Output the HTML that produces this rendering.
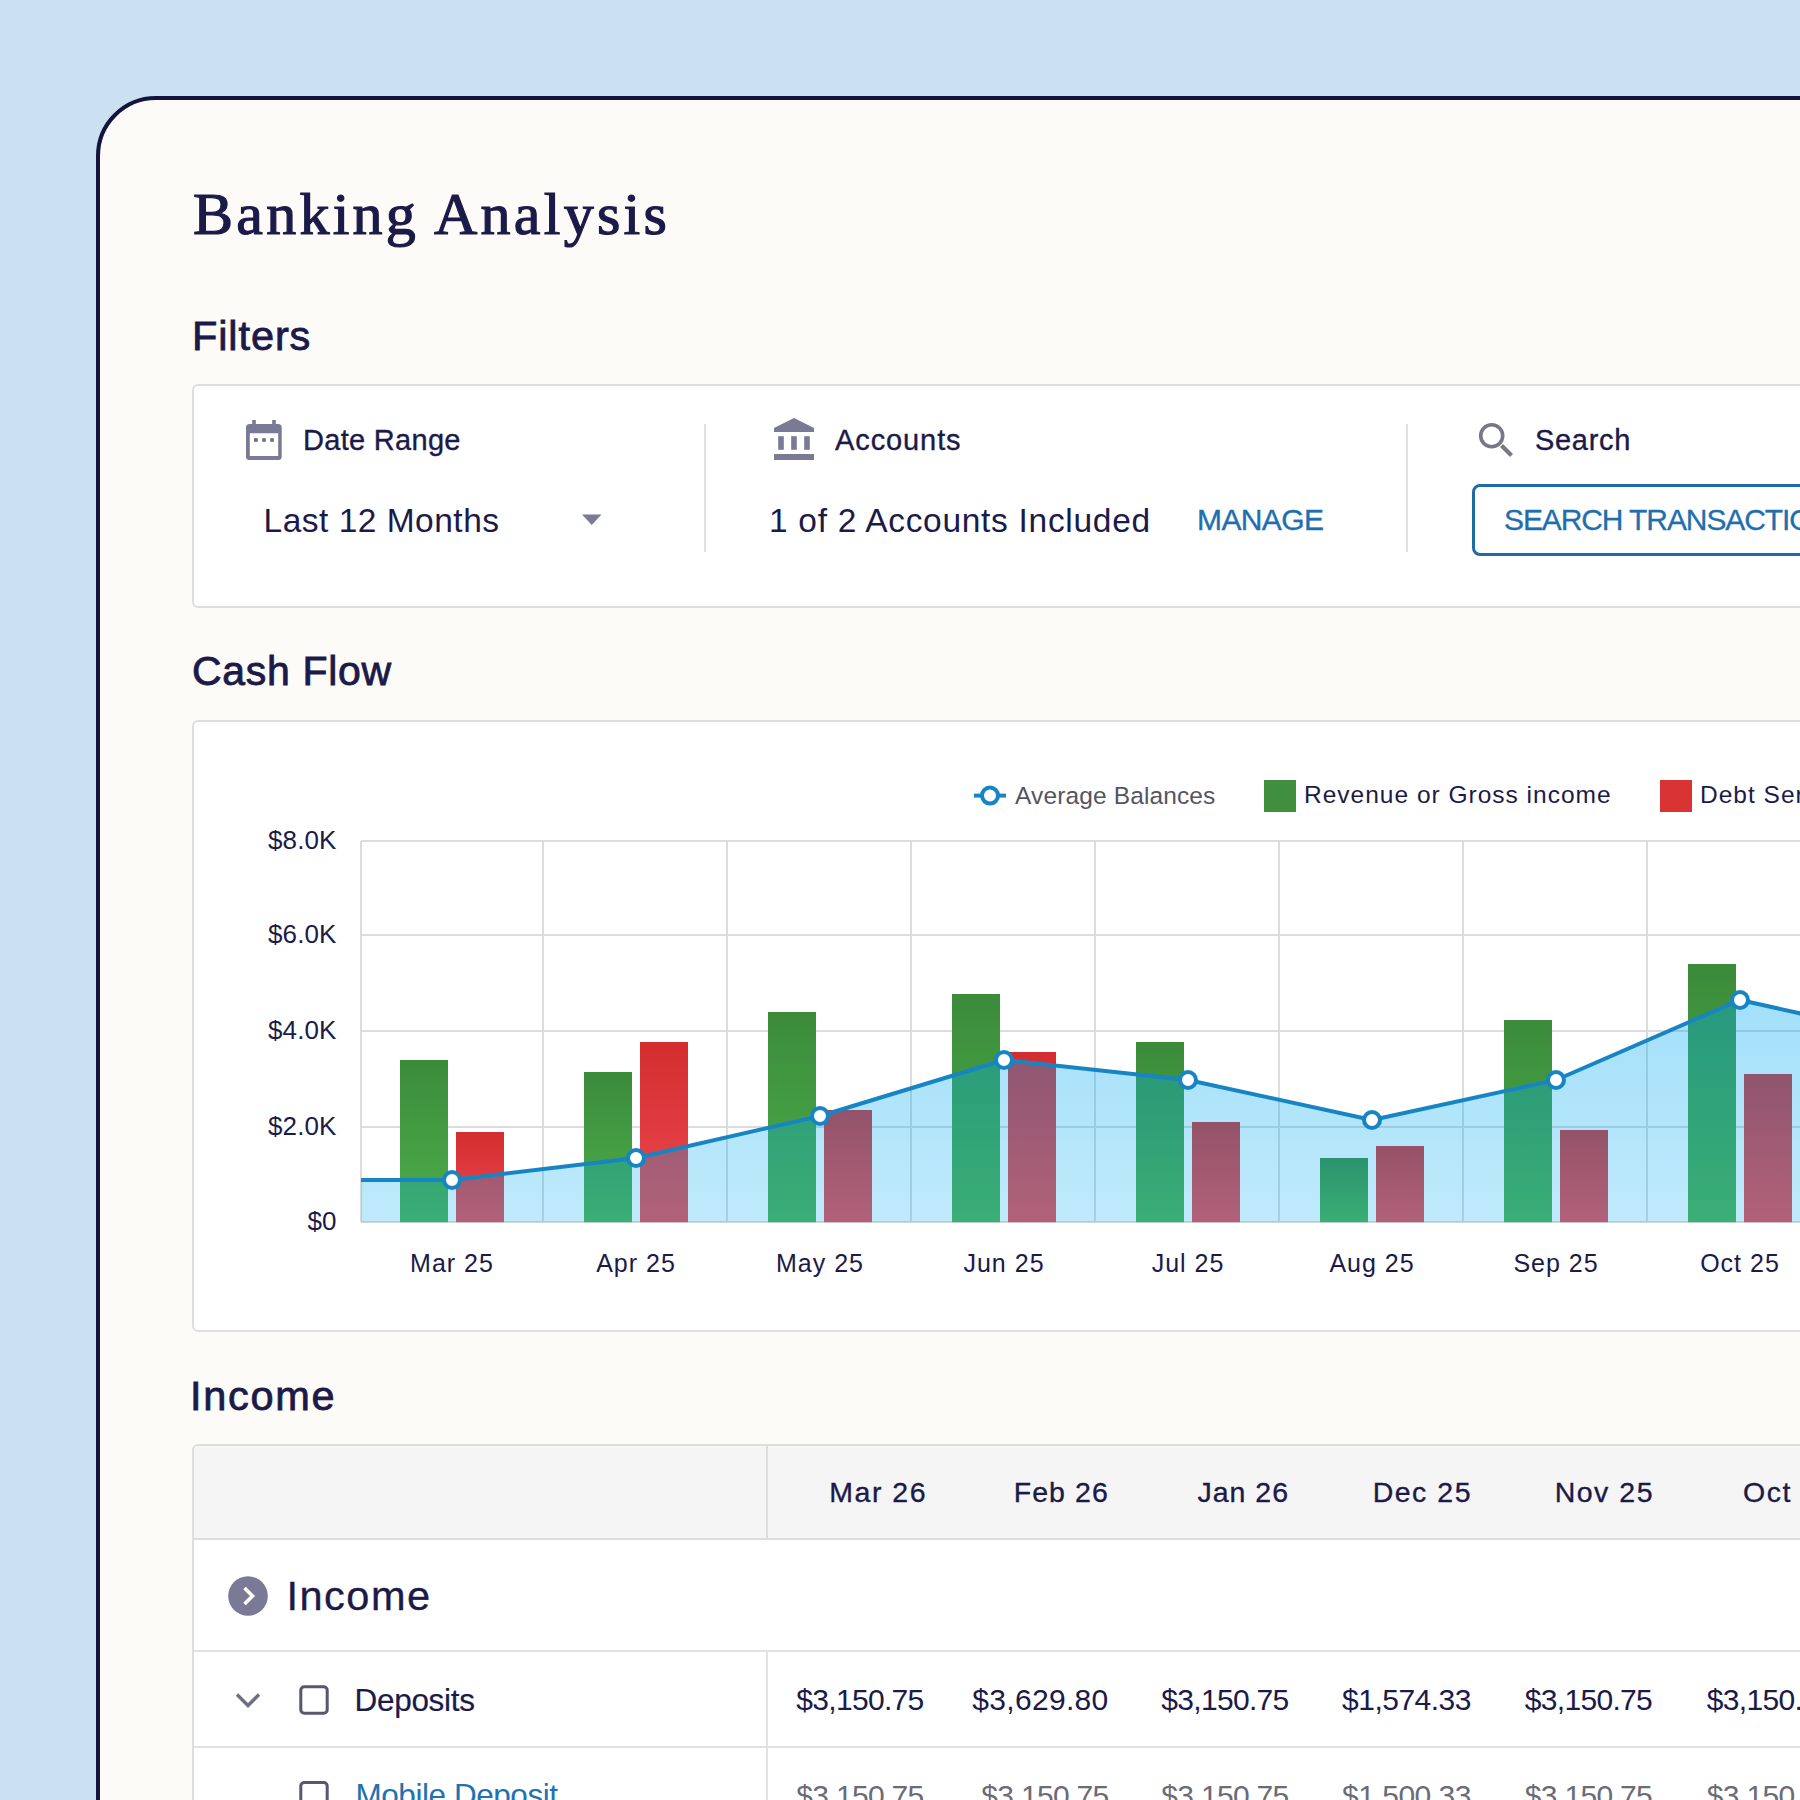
<!DOCTYPE html>
<html><head><meta charset="utf-8"><title>Banking Analysis</title>
<style>
html,body{margin:0;padding:0;}
body{width:1800px;height:1800px;overflow:hidden;position:relative;background:#cbe1f2;font-family:"Liberation Sans", sans-serif;}
.card{position:absolute;left:96px;top:96px;width:1900px;height:1900px;box-sizing:border-box;border:4px solid #13153f;border-radius:60px;background:#fcfbf8;}
.t{position:absolute;white-space:nowrap;line-height:1;}
.box{position:absolute;box-sizing:border-box;border:2px solid #dedede;border-radius:6px;background:#fff;}
.ic{position:absolute;overflow:visible}
.vd{position:absolute;width:2px;background:#e0e0e0;}
</style></head><body>
<div class="card"></div>
<div class="t" style="left:193px;top:183.76px;font-size:60px;font-family:'Liberation Serif', serif;font-weight:400;color:#1b1a48;letter-spacing:3.25px;-webkit-text-stroke:1.2px #1b1a48;">Banking Analysis</div>
<div class="t" style="left:192px;top:314.87px;font-size:41.5px;font-family:'Liberation Sans', sans-serif;font-weight:400;color:#1b1a48;letter-spacing:0.9px;-webkit-text-stroke:0.85px #1b1a48;">Filters</div>
<div class="box" style="left:192px;top:384px;width:1700px;height:224px;"></div>
<svg class="ic" style="left:236px;top:410px" width="60" height="60" viewBox="236 410 60 60">
<path fill="#7a7996" fill-rule="evenodd" d="M249.5 424h28.7a3.5 3.5 0 0 1 3.5 3.5v29a3.5 3.5 0 0 1 -3.5 3.5h-28.7a3.5 3.5 0 0 1 -3.5 -3.5v-29a3.5 3.5 0 0 1 3.5 -3.5z M249.8 433.3v22.7h28.4v-22.7z"/>
<rect x="252.2" y="420" width="3.6" height="8" fill="#7a7996"/><rect x="272.2" y="420" width="3.6" height="8" fill="#7a7996"/>
<rect x="254" y="438.2" width="3.8" height="3.6" fill="#6e6e7c"/><rect x="262.2" y="438.2" width="3.6" height="3.6" fill="#6e6e7c"/><rect x="270.2" y="438.2" width="3.6" height="3.6" fill="#6e6e7c"/>
</svg>
<div class="t" style="left:303px;top:426.45px;font-size:29px;font-family:'Liberation Sans', sans-serif;font-weight:400;color:#1b1a48;letter-spacing:0.3px;-webkit-text-stroke:0.35px #1b1a48;">Date Range</div>
<div class="t" style="left:263.5px;top:503.84px;font-size:33.5px;font-family:'Liberation Sans', sans-serif;font-weight:400;color:#1b1a48;letter-spacing:0.5px;">Last 12 Months</div>
<svg class="ic" style="left:580px;top:512px" width="24" height="16"><path d="M2 2.5h19.5l-9.75 10.5z" fill="#7a7996"/></svg>
<div class="vd" style="left:704px;top:424px;height:128px"></div>
<svg class="ic" style="left:764px;top:410px" width="60" height="60" viewBox="764 410 60 60">
<path fill="#7a7996" d="M774 428L794 418L814 428V432H774z"/>
<rect x="778.2" y="436.2" width="5.6" height="13.6" fill="#7a7996"/><rect x="791.2" y="436.2" width="5.6" height="13.6" fill="#7a7996"/><rect x="804.2" y="436.2" width="5.6" height="13.6" fill="#7a7996"/>
<rect x="774" y="454" width="40" height="6" fill="#7a7996"/>
</svg>
<div class="t" style="left:835px;top:426.45px;font-size:29px;font-family:'Liberation Sans', sans-serif;font-weight:400;color:#1b1a48;letter-spacing:0.9px;-webkit-text-stroke:0.35px #1b1a48;">Accounts</div>
<div class="t" style="left:769px;top:503.84px;font-size:33.5px;font-family:'Liberation Sans', sans-serif;font-weight:400;color:#1b1a48;letter-spacing:0.7px;">1 of 2 Accounts Included</div>
<div class="t" style="left:1197px;top:505.11px;font-size:30px;font-family:'Liberation Sans', sans-serif;font-weight:400;color:#1f6fae;letter-spacing:-0.6px;-webkit-text-stroke:0.35px #1f6fae;">MANAGE</div>
<div class="vd" style="left:1406px;top:424px;height:128px"></div>
<svg class="ic" style="left:1466px;top:410px" width="60" height="60" viewBox="1466 410 60 60">
<circle cx="1491.7" cy="435.7" r="11" fill="none" stroke="#777788" stroke-width="3.6"/>
<path d="M1501.5 445.5L1511.5 455.5" stroke="#777788" stroke-width="4.2"/>
</svg>
<div class="t" style="left:1535px;top:426.45px;font-size:29px;font-family:'Liberation Sans', sans-serif;font-weight:400;color:#1b1a48;letter-spacing:0.7px;-webkit-text-stroke:0.35px #1b1a48;">Search</div>
<div style="position:absolute;left:1472px;top:484px;width:600px;height:72px;box-sizing:border-box;border:3px solid #1f6ba6;border-radius:8px;background:#fff"></div>
<div class="t" style="left:1504px;top:505.11px;font-size:30px;font-family:'Liberation Sans', sans-serif;font-weight:400;color:#1f6fae;letter-spacing:-1.1px;-webkit-text-stroke:0.3px #1f6fae;">SEARCH TRANSACTIONS</div>
<div class="t" style="left:192px;top:651.29px;font-size:41px;font-family:'Liberation Sans', sans-serif;font-weight:400;color:#1b1a48;letter-spacing:0.67px;-webkit-text-stroke:0.85px #1b1a48;">Cash Flow</div>
<div class="box" style="left:192px;top:720px;width:1700px;height:612px;"></div>
<svg style="position:absolute;left:0;top:0" width="1800" height="1800" viewBox="0 0 1800 1800">
<defs>
<linearGradient id="gg" x1="0" y1="0" x2="0" y2="1"><stop offset="0" stop-color="#3b8b3a"/><stop offset="1" stop-color="#4db04c"/></linearGradient>
<linearGradient id="rg" x1="0" y1="0" x2="0" y2="1"><stop offset="0" stop-color="#d42d2f"/><stop offset="1" stop-color="#ec4a52"/></linearGradient>
<linearGradient id="ag" gradientUnits="userSpaceOnUse" x1="0" y1="990" x2="0" y2="1222"><stop offset="0" stop-color="#00aaf0" stop-opacity="0.37"/><stop offset="1" stop-color="#00aaf0" stop-opacity="0.25"/></linearGradient>
</defs>
<line x1="361" x2="1800" y1="841.0" y2="841.0" stroke="#dcdcdc" stroke-width="2"/>
<line x1="361" x2="1800" y1="935.0" y2="935.0" stroke="#dcdcdc" stroke-width="2"/>
<line x1="361" x2="1800" y1="1031.0" y2="1031.0" stroke="#dcdcdc" stroke-width="2"/>
<line x1="361" x2="1800" y1="1127.0" y2="1127.0" stroke="#dcdcdc" stroke-width="2"/>
<line x1="361" x2="1800" y1="1222.0" y2="1222.0" stroke="#dcdcdc" stroke-width="2"/>
<line x1="361.0" x2="361.0" y1="841" y2="1222.2" stroke="#dcdcdc" stroke-width="2"/>
<line x1="543.0" x2="543.0" y1="841" y2="1222.2" stroke="#dcdcdc" stroke-width="2"/>
<line x1="727.0" x2="727.0" y1="841" y2="1222.2" stroke="#dcdcdc" stroke-width="2"/>
<line x1="911.0" x2="911.0" y1="841" y2="1222.2" stroke="#dcdcdc" stroke-width="2"/>
<line x1="1095.0" x2="1095.0" y1="841" y2="1222.2" stroke="#dcdcdc" stroke-width="2"/>
<line x1="1279.0" x2="1279.0" y1="841" y2="1222.2" stroke="#dcdcdc" stroke-width="2"/>
<line x1="1463.0" x2="1463.0" y1="841" y2="1222.2" stroke="#dcdcdc" stroke-width="2"/>
<line x1="1647.0" x2="1647.0" y1="841" y2="1222.2" stroke="#dcdcdc" stroke-width="2"/>
<rect x="400.0" y="1060" width="48" height="162.2" fill="url(#gg)"/>
<rect x="456.0" y="1132" width="48" height="90.2" fill="url(#rg)"/>
<rect x="584.0" y="1072" width="48" height="150.2" fill="url(#gg)"/>
<rect x="640.0" y="1042" width="48" height="180.2" fill="url(#rg)"/>
<rect x="768.0" y="1012" width="48" height="210.2" fill="url(#gg)"/>
<rect x="824.0" y="1110" width="48" height="112.2" fill="url(#rg)"/>
<rect x="952.0" y="994" width="48" height="228.2" fill="url(#gg)"/>
<rect x="1008.0" y="1052" width="48" height="170.2" fill="url(#rg)"/>
<rect x="1136.0" y="1042" width="48" height="180.2" fill="url(#gg)"/>
<rect x="1192.0" y="1122" width="48" height="100.2" fill="url(#rg)"/>
<rect x="1320.0" y="1158" width="48" height="64.2" fill="url(#gg)"/>
<rect x="1376.0" y="1146" width="48" height="76.2" fill="url(#rg)"/>
<rect x="1504.0" y="1020" width="48" height="202.2" fill="url(#gg)"/>
<rect x="1560.0" y="1130" width="48" height="92.2" fill="url(#rg)"/>
<rect x="1688.0" y="964" width="48" height="258.2" fill="url(#gg)"/>
<rect x="1744.0" y="1074" width="48" height="148.2" fill="url(#rg)"/>
<polygon points="361,1222.2 361.0,1180 452.0,1180 636.0,1158 820.0,1116 1004.0,1060 1188.0,1080 1372.0,1120 1556.0,1080 1740.0,1000 1924.0,1041 1924,1222.2" fill="url(#ag)"/>
<polyline points="361.0,1180 452.0,1180 636.0,1158 820.0,1116 1004.0,1060 1188.0,1080 1372.0,1120 1556.0,1080 1740.0,1000 1924.0,1041" fill="none" stroke="#1785c4" stroke-width="4" stroke-linejoin="round"/>
<circle cx="452.0" cy="1180" r="8" fill="#fff" stroke="#1785c4" stroke-width="4"/>
<circle cx="636.0" cy="1158" r="8" fill="#fff" stroke="#1785c4" stroke-width="4"/>
<circle cx="820.0" cy="1116" r="8" fill="#fff" stroke="#1785c4" stroke-width="4"/>
<circle cx="1004.0" cy="1060" r="8" fill="#fff" stroke="#1785c4" stroke-width="4"/>
<circle cx="1188.0" cy="1080" r="8" fill="#fff" stroke="#1785c4" stroke-width="4"/>
<circle cx="1372.0" cy="1120" r="8" fill="#fff" stroke="#1785c4" stroke-width="4"/>
<circle cx="1556.0" cy="1080" r="8" fill="#fff" stroke="#1785c4" stroke-width="4"/>
<circle cx="1740.0" cy="1000" r="8" fill="#fff" stroke="#1785c4" stroke-width="4"/>
</svg>
<div class="t" style="right:1463.5px;top:827.09px;font-size:26px;font-family:'Liberation Sans', sans-serif;font-weight:400;color:#1b1a48;letter-spacing:0.1px;">$8.0K</div>
<div class="t" style="right:1463.5px;top:921.09px;font-size:26px;font-family:'Liberation Sans', sans-serif;font-weight:400;color:#1b1a48;letter-spacing:0.1px;">$6.0K</div>
<div class="t" style="right:1463.5px;top:1017.09px;font-size:26px;font-family:'Liberation Sans', sans-serif;font-weight:400;color:#1b1a48;letter-spacing:0.1px;">$4.0K</div>
<div class="t" style="right:1463.5px;top:1113.09px;font-size:26px;font-family:'Liberation Sans', sans-serif;font-weight:400;color:#1b1a48;letter-spacing:0.1px;">$2.0K</div>
<div class="t" style="right:1463.5px;top:1208.09px;font-size:26px;font-family:'Liberation Sans', sans-serif;font-weight:400;color:#1b1a48;letter-spacing:0.1px;">$0</div>
<div class="t" style="left:352.0px;width:200px;text-align:center;top:1250.8px;font-size:25px;color:#1b1a48;letter-spacing:1px">Mar 25</div>
<div class="t" style="left:536.0px;width:200px;text-align:center;top:1250.8px;font-size:25px;color:#1b1a48;letter-spacing:1px">Apr 25</div>
<div class="t" style="left:720.0px;width:200px;text-align:center;top:1250.8px;font-size:25px;color:#1b1a48;letter-spacing:1px">May 25</div>
<div class="t" style="left:904.0px;width:200px;text-align:center;top:1250.8px;font-size:25px;color:#1b1a48;letter-spacing:1px">Jun 25</div>
<div class="t" style="left:1088.0px;width:200px;text-align:center;top:1250.8px;font-size:25px;color:#1b1a48;letter-spacing:1px">Jul 25</div>
<div class="t" style="left:1272.0px;width:200px;text-align:center;top:1250.8px;font-size:25px;color:#1b1a48;letter-spacing:1px">Aug 25</div>
<div class="t" style="left:1456.0px;width:200px;text-align:center;top:1250.8px;font-size:25px;color:#1b1a48;letter-spacing:1px">Sep 25</div>
<div class="t" style="left:1640.0px;width:200px;text-align:center;top:1250.8px;font-size:25px;color:#1b1a48;letter-spacing:1px">Oct 25</div>
<svg class="ic" style="left:970px;top:780px" width="40" height="32" viewBox="970 780 40 32">
<line x1="974" x2="1006" y1="795.6" y2="795.6" stroke="#1785c4" stroke-width="4"/>
<circle cx="990" cy="795.6" r="8" fill="#fff" stroke="#1785c4" stroke-width="4"/></svg>
<div class="t" style="left:1015px;top:784.26px;font-size:24.5px;font-family:'Liberation Sans', sans-serif;font-weight:400;color:#55555f;letter-spacing:0.13px;">Average Balances</div>
<div style="position:absolute;left:1264px;top:780px;width:32px;height:32px;background:#3f8f3f"></div>
<div class="t" style="left:1304px;top:783.26px;font-size:24.5px;font-family:'Liberation Sans', sans-serif;font-weight:400;color:#1b1a48;letter-spacing:1.0px;">Revenue or Gross income</div>
<div style="position:absolute;left:1660px;top:780px;width:32px;height:32px;background:#d93334"></div>
<div class="t" style="left:1700px;top:783.26px;font-size:24.5px;font-family:'Liberation Sans', sans-serif;font-weight:400;color:#1b1a48;letter-spacing:1.0px;">Debt Service</div>
<div class="t" style="left:190px;top:1375.37px;font-size:41.5px;font-family:'Liberation Sans', sans-serif;font-weight:400;color:#1b1a48;letter-spacing:1.7px;-webkit-text-stroke:0.85px #1b1a48;">Income</div>
<div class="box" style="left:192px;top:1444px;width:1700px;height:500px;overflow:hidden"><div style="position:absolute;left:0;top:0;right:0;height:92px;background:#f5f5f5;border-bottom:2px solid #dedede"></div><div style="position:absolute;left:0;top:204px;right:0;height:0;border-top:2px solid #e2e2e2"></div><div style="position:absolute;left:0;top:300px;right:0;height:0;border-top:2px solid #e2e2e2"></div><div style="position:absolute;left:572px;top:0;width:2px;height:93px;background:#dedede"></div><div style="position:absolute;left:572px;top:206px;width:2px;height:400px;background:#e2e2e2"></div></div>
<div class="t" style="right:873px;top:1477.87px;font-size:28.5px;font-family:'Liberation Sans', sans-serif;font-weight:400;color:#1b1a48;letter-spacing:1.5px;-webkit-text-stroke:0.35px #1b1a48;">Mar 26</div>
<div class="t" style="right:691px;top:1477.87px;font-size:28.5px;font-family:'Liberation Sans', sans-serif;font-weight:400;color:#1b1a48;letter-spacing:1.1px;-webkit-text-stroke:0.35px #1b1a48;">Feb 26</div>
<div class="t" style="right:511px;top:1477.87px;font-size:28.5px;font-family:'Liberation Sans', sans-serif;font-weight:400;color:#1b1a48;letter-spacing:1.0px;-webkit-text-stroke:0.35px #1b1a48;">Jan 26</div>
<div class="t" style="right:328px;top:1477.87px;font-size:28.5px;font-family:'Liberation Sans', sans-serif;font-weight:400;color:#1b1a48;letter-spacing:1.5px;-webkit-text-stroke:0.35px #1b1a48;">Dec 25</div>
<div class="t" style="right:146px;top:1477.87px;font-size:28.5px;font-family:'Liberation Sans', sans-serif;font-weight:400;color:#1b1a48;letter-spacing:1.5px;-webkit-text-stroke:0.35px #1b1a48;">Nov 25</div>
<div class="t" style="right:-36px;top:1477.87px;font-size:28.5px;font-family:'Liberation Sans', sans-serif;font-weight:400;color:#1b1a48;letter-spacing:1.5px;-webkit-text-stroke:0.35px #1b1a48;">Oct 25</div>
<svg class="ic" style="left:220px;top:1570px" width="60" height="60" viewBox="220 1570 60 60">
<circle cx="248" cy="1596" r="19.8" fill="#7a7996"/>
<path d="M244.5 1588L252.5 1596L244.5 1604" fill="none" stroke="#fff" stroke-width="3.6"/></svg>
<div class="t" style="left:286.5px;top:1575.37px;font-size:41.5px;font-family:'Liberation Sans', sans-serif;font-weight:400;color:#1b1a48;letter-spacing:1.5px;-webkit-text-stroke:0.35px #1b1a48;">Income</div>
<svg class="ic" style="left:226px;top:1670px" width="120" height="60" viewBox="226 1670 120 60">
<path d="M237 1694.5L248 1705.5L259 1694.5" fill="none" stroke="#6f6f80" stroke-width="3.4"/>
<rect x="300.8" y="1686.8" width="26.4" height="26.4" rx="3.5" fill="none" stroke="#575770" stroke-width="3"/></svg>
<div class="t" style="left:354.5px;top:1685.34px;font-size:31.5px;font-family:'Liberation Sans', sans-serif;font-weight:400;color:#1b1a48;letter-spacing:-0.3px;-webkit-text-stroke:0.2px #1b1a48;">Deposits</div>
<div class="t" style="right:876.5px;top:1685.11px;font-size:30px;font-family:'Liberation Sans', sans-serif;font-weight:400;color:#1b1a48;letter-spacing:-0.7px;">$3,150.75</div>
<div class="t" style="right:691.5px;top:1685.11px;font-size:30px;font-family:'Liberation Sans', sans-serif;font-weight:400;color:#1b1a48;letter-spacing:0.3px;">$3,629.80</div>
<div class="t" style="right:511.5px;top:1685.11px;font-size:30px;font-family:'Liberation Sans', sans-serif;font-weight:400;color:#1b1a48;letter-spacing:-0.7px;">$3,150.75</div>
<div class="t" style="right:329px;top:1685.11px;font-size:30px;font-family:'Liberation Sans', sans-serif;font-weight:400;color:#1b1a48;letter-spacing:-0.5px;">$1,574.33</div>
<div class="t" style="right:148px;top:1685.11px;font-size:30px;font-family:'Liberation Sans', sans-serif;font-weight:400;color:#1b1a48;letter-spacing:-0.7px;">$3,150.75</div>
<div class="t" style="right:-34px;top:1685.11px;font-size:30px;font-family:'Liberation Sans', sans-serif;font-weight:400;color:#1b1a48;letter-spacing:-0.7px;">$3,150.75</div>
<svg class="ic" style="left:290px;top:1770px" width="50" height="40" viewBox="290 1770 50 40">
<rect x="300.8" y="1782.5" width="26.4" height="26.4" rx="3.5" fill="none" stroke="#575770" stroke-width="3"/></svg>
<div class="t" style="left:355.5px;top:1779.84px;font-size:31.5px;font-family:'Liberation Sans', sans-serif;font-weight:400;color:#2272b0;letter-spacing:-0.45px;">Mobile Deposit</div>
<div class="t" style="right:876.5px;top:1781.11px;font-size:30px;font-family:'Liberation Sans', sans-serif;font-weight:400;color:#6b6b78;letter-spacing:-0.7px;">$3,150.75</div>
<div class="t" style="right:691.5px;top:1781.11px;font-size:30px;font-family:'Liberation Sans', sans-serif;font-weight:400;color:#6b6b78;letter-spacing:-0.7px;">$3,150.75</div>
<div class="t" style="right:511.5px;top:1781.11px;font-size:30px;font-family:'Liberation Sans', sans-serif;font-weight:400;color:#6b6b78;letter-spacing:-0.7px;">$3,150.75</div>
<div class="t" style="right:329px;top:1781.11px;font-size:30px;font-family:'Liberation Sans', sans-serif;font-weight:400;color:#6b6b78;letter-spacing:-0.5px;">$1,500.33</div>
<div class="t" style="right:148px;top:1781.11px;font-size:30px;font-family:'Liberation Sans', sans-serif;font-weight:400;color:#6b6b78;letter-spacing:-0.7px;">$3,150.75</div>
<div class="t" style="right:-34px;top:1781.11px;font-size:30px;font-family:'Liberation Sans', sans-serif;font-weight:400;color:#6b6b78;letter-spacing:-0.7px;">$3,150.75</div>
</body></html>
